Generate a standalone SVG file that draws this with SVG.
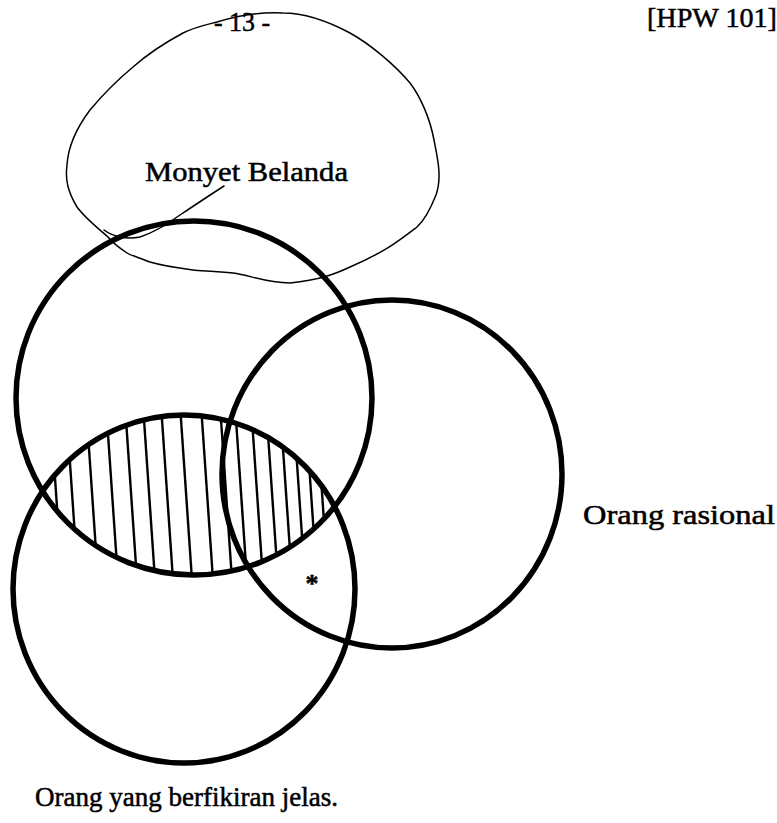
<svg xmlns="http://www.w3.org/2000/svg" width="777" height="823" viewBox="0 0 777 823">
<style>
.t{font-family:"Liberation Serif","Times New Roman",serif;fill:#000;stroke:#000;stroke-width:0.5}
.set{fill:none;stroke:#000;stroke-width:5.5}
.blob{fill:none;stroke:#000;stroke-width:1.5;stroke-linejoin:round;stroke-linecap:round}
.hatch line{stroke:#000;stroke-width:2.4}
</style>
<defs>
<clipPath id="clipA"><ellipse cx="194" cy="398" rx="178" ry="177"/></clipPath>
<clipPath id="clipC"><ellipse cx="184" cy="589" rx="171" ry="174"/></clipPath>
</defs>
<rect width="777" height="823" fill="#fff"/>
<text class="t" x="242" y="31" font-size="27" text-anchor="middle" textLength="56" lengthAdjust="spacingAndGlyphs">- 13 -</text>
<text class="t" x="647" y="27" font-size="27" textLength="130" lengthAdjust="spacingAndGlyphs">[HPW 101]</text>
<g id="monyet-belanda">
<path class="blob" d="M217,22 C240,15 265,12 283,13 C300,13 320,17 350,33 C370,44 395,65 410,83 C420,96 430,118 434,140 C438,160 442,178 436,195 C430,210 425,220 417,227 C400,240 385,252 350,267 C335,274 320,280 290,283 C265,283 250,275 233,273 C215,271 200,271 193,270 C170,267 160,265 150,262 C140,258 130,255 127,253 C118,247 112,242 108,237 C100,230 85,218 77,207 C68,192 65,180 67,165 C68,148 75,130 90,110 C105,92 115,82 133,67 C150,52 170,40 183,33 C195,27 205,25 217,22 Z"/>
<path class="blob" d="M224,186 C210,195 195,205 180,215 C165,226 155,232 140,237 C125,240 112,236 104,230"/>
<text class="t" x="145" y="181" font-size="27" textLength="203" lengthAdjust="spacingAndGlyphs">Monyet Belanda</text>
</g>
<g id="hatching" class="hatch" clip-path="url(#clipC)">
<g clip-path="url(#clipA)">
<line x1="50" y1="405" x2="62" y2="580"/>
<line x1="66" y1="405" x2="78" y2="580"/>
<line x1="86" y1="405" x2="98" y2="580"/>
<line x1="106" y1="405" x2="118" y2="580"/>
<line x1="125" y1="405" x2="137" y2="580"/>
<line x1="143" y1="405" x2="155" y2="580"/>
<line x1="161" y1="405" x2="173" y2="580"/>
<line x1="180" y1="405" x2="192" y2="580"/>
<line x1="201" y1="405" x2="213" y2="580"/>
<line x1="220" y1="405" x2="232" y2="580"/>
<line x1="235" y1="405" x2="247" y2="580"/>
<line x1="251" y1="405" x2="263" y2="580"/>
<line x1="266" y1="405" x2="278" y2="580"/>
<line x1="280" y1="405" x2="292" y2="580"/>
<line x1="293" y1="405" x2="305" y2="580"/>
<line x1="305" y1="405" x2="317" y2="580"/>
<line x1="316" y1="405" x2="328" y2="580"/>
</g>
</g>
<g id="set-top">
<ellipse class="set" cx="194" cy="398" rx="178" ry="177"/>
</g>
<g id="orang-rasional">
<ellipse class="set" cx="392" cy="474" rx="170" ry="174"/>
<text class="t" x="583" y="524" font-size="27" textLength="192" lengthAdjust="spacingAndGlyphs">Orang rasional</text>
</g>
<g id="orang-berfikiran-jelas">
<ellipse class="set" cx="184" cy="589" rx="171" ry="174"/>
<text class="t" x="35" y="806" font-size="27" textLength="303" lengthAdjust="spacingAndGlyphs">Orang yang berfikiran jelas.</text>
</g>
<text class="t" x="312" y="592" font-size="26" text-anchor="middle" font-weight="bold">*</text>
</svg>
